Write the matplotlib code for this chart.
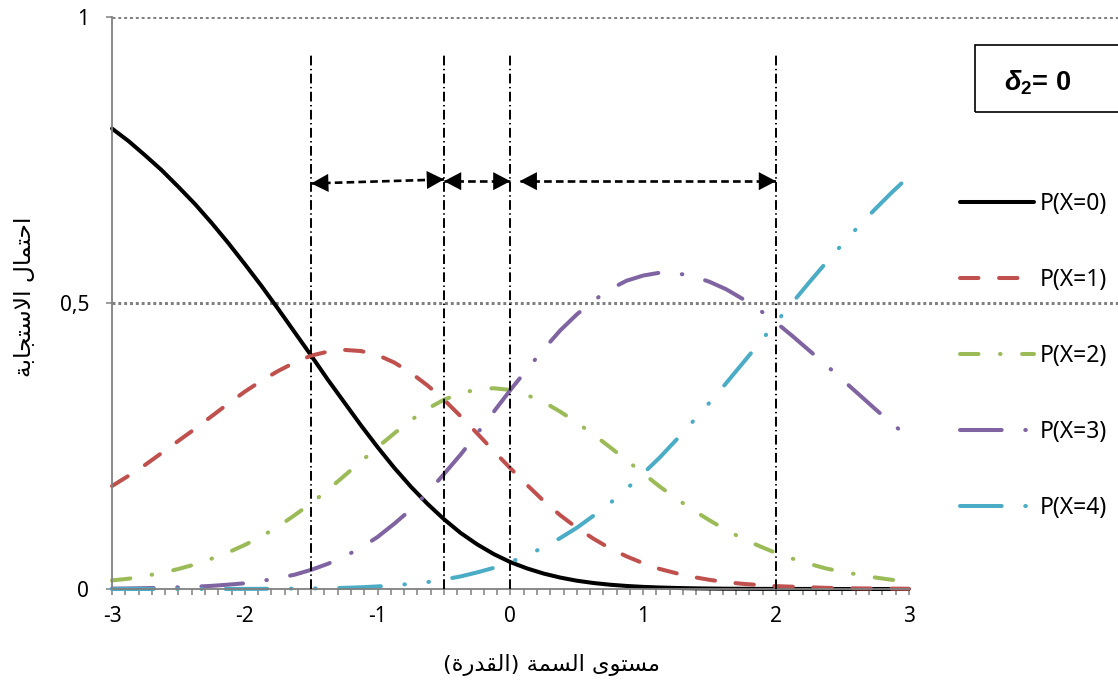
import matplotlib
matplotlib.use("Agg")
import numpy as np
import matplotlib.pyplot as plt
from matplotlib.patches import Rectangle
from matplotlib.ticker import FixedLocator

plt.rcParams["lines.scale_dashes"] = False
plt.rcParams["font.family"] = ["Noto Sans", "DejaVu Sans"]
plt.rcParams["mathtext.fontset"] = "custom"
plt.rcParams["mathtext.rm"] = "Liberation Sans:bold"
plt.rcParams["mathtext.it"] = "Liberation Sans:italic:bold"
plt.rcParams["mathtext.bf"] = "Liberation Sans:bold"

# ability levels and category probabilities
theta = [-3.0, -2.875, -2.75, -2.625, -2.5, -2.375, -2.25, -2.125, -2.0, -1.875, -1.75, -1.625,
         -1.5, -1.375, -1.25, -1.125, -1.0, -0.875, -0.75, -0.625, -0.5, -0.375, -0.25, -0.125,
         0.0, 0.125, 0.25, 0.375, 0.5, 0.625, 0.75, 0.875, 1.0, 1.125, 1.25, 1.375, 1.5, 1.625,
         1.75, 1.875, 2.0, 2.125, 2.25, 2.375, 2.5, 2.625, 2.75, 2.875, 3.0]
p_x0 = [0.805, 0.783, 0.758, 0.732, 0.703, 0.673, 0.640, 0.605, 0.568, 0.530, 0.490, 0.449,
        0.408, 0.366, 0.326, 0.286, 0.248, 0.212, 0.179, 0.149, 0.122, 0.098, 0.078, 0.061,
        0.047, 0.036, 0.027, 0.020, 0.0145, 0.0105, 0.0075, 0.0053, 0.0037, 0.0026, 0.0018, 0.0012,
        0.0008, 0.0005, 0.0004, 0.0002, 0.0002, 0.0001, 0.0001, 0.0, 0.0, 0.0, 0.0, 0.0, 0.0]
p_x1 = [0.180, 0.198, 0.217, 0.238, 0.259, 0.280, 0.302, 0.324, 0.345, 0.364, 0.381, 0.396,
        0.408, 0.415, 0.418, 0.416, 0.409, 0.396, 0.378, 0.356, 0.331, 0.302, 0.272, 0.241,
        0.211, 0.182, 0.154, 0.129, 0.107, 0.088, 0.071, 0.057, 0.045, 0.035, 0.0275, 0.021,
        0.016, 0.012, 0.009, 0.007, 0.005, 0.004, 0.003, 0.002, 0.0015, 0.001, 0.0008, 0.0006, 0.0004]
p_x2 = [0.015, 0.018, 0.023, 0.028, 0.035, 0.043, 0.053, 0.064, 0.077, 0.092, 0.109, 0.129,
        0.150, 0.173, 0.198, 0.223, 0.248, 0.272, 0.295, 0.315, 0.331, 0.342, 0.349, 0.351,
        0.348, 0.339, 0.327, 0.310, 0.291, 0.270, 0.248, 0.225, 0.202, 0.179, 0.158, 0.138,
        0.120, 0.103, 0.088, 0.075, 0.063, 0.053, 0.044, 0.036, 0.030, 0.025, 0.020, 0.016, 0.013]
p_x3 = [0.0007, 0.001, 0.0015, 0.002, 0.003, 0.004, 0.0055, 0.0076, 0.010, 0.014, 0.019, 0.025,
        0.0335, 0.044, 0.057, 0.072, 0.091, 0.114, 0.139, 0.168, 0.201, 0.235, 0.272, 0.310,
        0.348, 0.384, 0.419, 0.452, 0.480, 0.504, 0.524, 0.539, 0.548, 0.553, 0.552, 0.547,
        0.537, 0.524, 0.507, 0.488, 0.466, 0.442, 0.417, 0.392, 0.366, 0.340, 0.314, 0.289, 0.265]
p_x4 = [0.0, 0.0, 0.0, 0.0, 0.0, 0.0, 0.0001, 0.0001, 0.0002, 0.0003, 0.0005, 0.0007,
        0.001, 0.0015, 0.002, 0.003, 0.0045, 0.0064, 0.009, 0.012, 0.0165, 0.022, 0.029, 0.037,
        0.047, 0.059, 0.073, 0.089, 0.107, 0.128, 0.150, 0.175, 0.202, 0.230, 0.261, 0.293,
        0.326, 0.360, 0.395, 0.430, 0.466, 0.501, 0.536, 0.570, 0.603, 0.635, 0.665, 0.694, 0.721]
labels = ["P(X=0)", "P(X=1)", "P(X=2)", "P(X=3)", "P(X=4)"]

thresholds = [-1.5, -0.5, 0.0, 2.0]
arrow_spans = [(-1.5, 0.709, -0.5, 0.716), (-0.5, 0.713, 0.0, 0.713), (0.07, 0.713, 2.0, 0.713)]
x_ticks = [-3, -2, -1, 0, 1, 2, 3]
y_ticks = [0, 0.5, 1]
y_ticklabels = ["0", "0,5", "1"]

# Arabic labels in visual order (presentation forms, shaped by hand)
xlabel_txt = ("(\ufe93\ufead\ufeaa\ufed8\ufedf\ufe8d) "
              "\ufe94\ufee4\ufeb4\ufedf\ufe8d "
              "\ufeef\ufeee\ufe98\ufeb4\ufee3")
ylabel_txt = ("\ufe94\ufe91\ufe8e\ufea0\ufe98\ufeb3\ufefb\ufe8d "
              "\ufedd\ufe8e\ufee4\ufe98\ufea3\ufe8d")

colors = ["black", "#C0504D", "#9BBB59", "#8064A2", "#4BACC6"]
styles = [
    "-",
    (0, (13.3, 14.8)),
    (0, (13.3, 15.5, 0.4, 15.5)),
    (0, (30, 17, 0.4, 17)),
    (0, (30, 17, 0.4, 17, 0.4, 17)),
]
grey = "#808080"

W, H = 1118, 692
fig = plt.figure(figsize=(W / 100, H / 100), dpi=100)
ax = fig.add_axes([112 / W, (H - 589) / H, 1 - 112 / W, (589 - 17) / H])

series = [p_x0, p_x1, p_x2, p_x3, p_x4]
for vals, c, ls, lab in zip(series, colors, styles, labels):
    ax.plot(theta, vals, color=c, linestyle=ls, lw=2.9, label=lab,
            dash_capstyle="round", solid_capstyle="round", clip_on=False)

# grid lines
for yv in [0.5, 1.0]:
    ax.axhline(yv, color=grey, lw=2.2, linestyle=(0, (2.1, 2.1)), zorder=0)

# threshold lines
ax.vlines(thresholds, 0, 0.935, color="black", lw=1.4,
          linestyles=[(0, (7, 2.5, 1, 2.5))], zorder=3)

# double arrows: dashed shaft + solid heads
for x0, y0, x1, y1 in arrow_spans:
    ax.plot([x0, x1], [y0, y1], color="black", lw=1.9, linestyle=(0, (5.5, 3)), zorder=4)
    ax.annotate("", xy=(x1, y1), xytext=(x0, y0),
                arrowprops=dict(arrowstyle="<|-|>,head_length=0.4,head_width=0.21",
                                mutation_scale=31, color="black", lw=0,
                                shrinkA=0, shrinkB=0), zorder=4)

ax.set_xlim(-3, -3 + (W - 112) / 132.8)
ax.set_ylim(0, 1)
for s in ["top", "right"]:
    ax.spines[s].set_visible(False)
for s in ["left", "bottom"]:
    ax.spines[s].set_color(grey)
    ax.spines[s].set_linewidth(1.3)
ax.spines["bottom"].set_bounds(-3, 3)

ax.xaxis.set_major_locator(FixedLocator(x_ticks))
ax.xaxis.set_minor_locator(FixedLocator(np.round(np.arange(-30, 31) / 10, 1)))
ax.set_xticklabels([str(v) for v in x_ticks])
ax.set_yticks(y_ticks)
ax.set_yticklabels(y_ticklabels)
ax.tick_params(axis="x", which="both", direction="out", length=4.5, width=1.1,
               color=grey, labelsize=15, pad=8)
ax.tick_params(axis="y", which="both", direction="out", length=4.5, width=1.1,
               color=grey, labelsize=15, pad=12)

fig.text(551 / W, 1 - 665 / H, xlabel_txt, family="DejaVu Sans", fontsize=16.2,
         ha="center", va="center")
fig.text(24 / W, 1 - 297 / H, ylabel_txt, family="DejaVu Sans", fontsize=16.8,
         ha="center", va="center", rotation=90)

# delta box
fig.add_artist(Rectangle((975 / W, 1 - 112 / H), 0.2, 67 / H, transform=fig.transFigure,
                         fill=False, edgecolor="black", lw=1.2, clip_on=False))
fig.text(1038 / W, 1 - 83 / H, r"$\mathit{\delta}_{\mathbf{2}}$= 0", family="Liberation Sans",
         fontweight="bold", fontsize=19.5, ha="center", va="center")

ax.legend(loc="upper left", bbox_to_anchor=(960 / W, 1 - 192 / H), bbox_transform=fig.transFigure,
          frameon=False, borderpad=0, borderaxespad=0, handlelength=3.25, handletextpad=0.23,
          labelspacing=2.27, fontsize=16.5)

fig.savefig("out.png", dpi=100)
